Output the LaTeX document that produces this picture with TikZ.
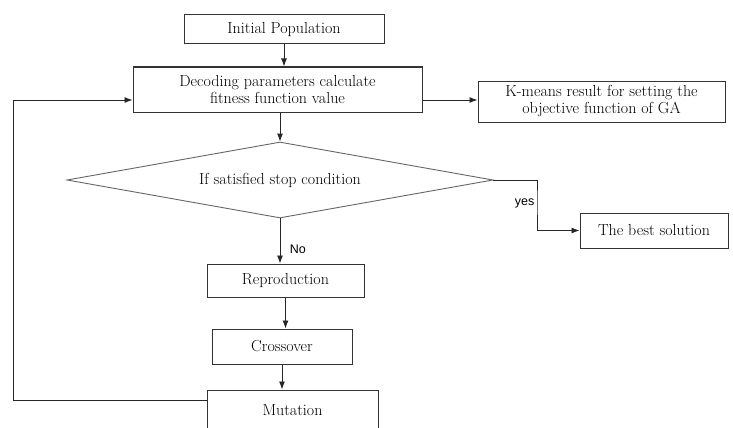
\documentclass[tikz,border=0pt]{standalone}
\usepackage{fontspec}
\newfontfamily\labelfont{Liberation Sans}
\usetikzlibrary{positioning, shapes.geometric, arrows.meta, calc}

\begin{document}
\begin{tikzpicture}[
      x=1pt, y=-1pt,
      >={Latex[length=8pt,width=6pt]},
      box/.style={rectangle, draw=black!80, line width=1pt, inner sep=2pt,
        font=\fontsize{16}{17}\selectfont, align=center, fill=white},
      decision/.style={diamond, draw=black!60, line width=0.9pt, aspect=5.6, inner sep=0pt,
        font=\fontsize{16}{17}\selectfont},
      edge/.style={->, draw=black!85, line width=0.9pt},
      lab/.style={font=\labelfont\fontsize{12.5}{14}\selectfont, inner sep=1.5pt}
    ]
    \useasboundingbox (0,0) rectangle (733,428);

    % main column
    \node[box, minimum width=200pt, minimum height=29pt] (init) at (284,29.5) {Initial Population};
    \node[box, minimum width=289pt, minimum height=45pt] (decode) at (277.5,89.5)
      {Decoding parameters calculate\\fitness function value};
    \node[decision, minimum width=426pt, minimum height=76pt] (cond) at (280,180)
      {If satisfied stop condition};
    \node[box, minimum width=157pt, minimum height=33pt] (repro) at (285.5,280.5) {Reproduction};
    \node[box, minimum width=140pt, minimum height=35pt] (cross) at (282,346.5) {Crossover};
    \node[box, minimum width=171pt, minimum height=40pt] (mut) at (292.5,410) {Mutation};

    % side boxes
    \node[box, minimum width=247pt, minimum height=41pt] (kmeans) at (601.5,101.5)
      {K-means result for setting the\\objective function of GA};
    \node[box, minimum width=148pt, minimum height=35pt] (best) at (654,230.5) {The best solution};

    % corners
    \coordinate (loopBot) at (13,400);
    \coordinate (loopTop) at (13,100);
    \coordinate (yesTurn) at (537,200);

    \draw[edge] (init.south) -- (init.south |- decode.north);
    \draw[edge] (cond.north |- decode.south) -- (cond.north);
    \draw[edge] (decode.east |- loopTop) -- (kmeans.west |- loopTop);
    \draw[edge] (cond.south) -- node[lab, right, pos=0.68, xshift=8pt] {No} (cond.south |- repro.north);
    \draw[edge] (repro.south) -- (repro.south |- cross.north);
    \draw[edge] (cross.south) -- (cross.south |- mut.north);
    \draw[edge] (cond.east) -| (yesTurn) |- (best.west);
    \node[lab, anchor=east] (yes) at (536,203) {yes};
    \draw[edge] (loopBot -| mut.west) -- (loopBot) -- (loopTop) -- (loopTop -| decode.west);
  \end{tikzpicture}
\end{document}
